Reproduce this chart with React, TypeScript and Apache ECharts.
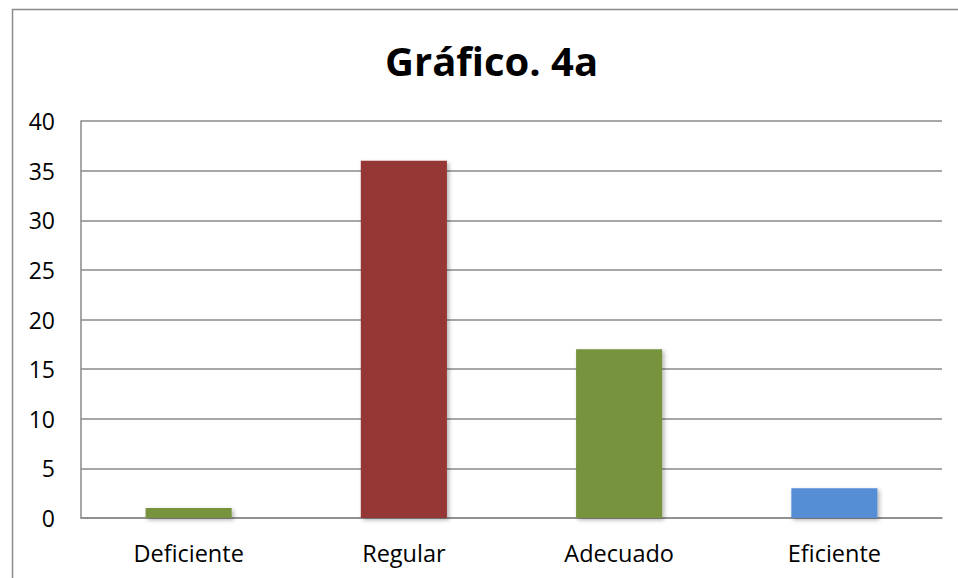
import React, { useEffect, useRef } from "react";
import * as echarts from "echarts";

const categories = ["Deficiente", "Regular", "Adecuado", "Eficiente"];
const values = [1, 36, 17, 3];
const barColors = ["#77933C", "#953735", "#77933C", "#558ED5"];
const titleText = "Gráfico. 4a";

const FONT = "Open Sans";

export default function App() {
  const ref = useRef<HTMLDivElement>(null);
  useEffect(() => {
    document.body.style.margin = "0";
    const chart = echarts.init(ref.current!, undefined, { renderer: "svg" });
    chart.setOption({
      animation: false,
      backgroundColor: "#ffffff",
      title: {
        text: titleText,
        left: 385,
        top: 40,
        padding: 0,
        textStyle: { fontFamily: FONT, fontWeight: "bold", fontSize: 40, color: "#000" },
      },
      graphic: [
        {
          type: "rect",
          shape: { x: 12.5, y: 9.5, width: 1000, height: 1000 },
          style: { fill: "none", stroke: "#8a8a8a", lineWidth: 1.5 },
          silent: true,
        },
      ],
      grid: { left: 81, right: 16, top: 121, bottom: 60, containLabel: false },
      xAxis: {
        type: "category",
        data: categories,
        axisLine: { show: true, lineStyle: { color: "#8a8a8a", width: 1.5 } },
        axisTick: { show: false },
        axisLabel: { color: "#000", fontFamily: FONT, fontSize: 23.5, margin: 23 },
      },
      yAxis: {
        type: "value",
        min: 0,
        max: 40,
        interval: 5,
        axisLine: { show: true, lineStyle: { color: "#8a8a8a", width: 1.5 } },
        axisTick: { show: false },
        splitLine: { lineStyle: { color: "#8a8a8a", width: 1.5 } },
        axisLabel: { color: "#000", fontFamily: FONT, fontSize: 23, margin: 26 },
      },
      series: [
        {
          type: "bar",
          barWidth: "40%",
          data: values.map((v, i) => ({
            value: v,
            itemStyle: {
              color: barColors[i],
              shadowBlur: 4,
              shadowOffsetX: 2,
              shadowOffsetY: 2,
              shadowColor: "rgba(0,0,0,0.3)",
            },
          })),
        },
      ],
    });
    return () => chart.dispose();
  }, []);
  return <div ref={ref} style={{ position: "absolute", left: 0, top: 0, width: 958, height: 578 }} />;
}
